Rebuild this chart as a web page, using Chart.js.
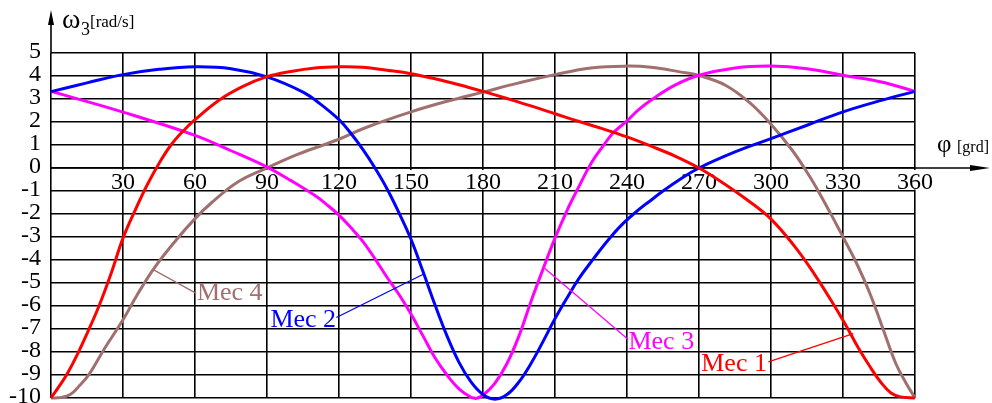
<!DOCTYPE html>
<html>
<head>
<meta charset="utf-8">
<script src="https://cdn.jsdelivr.net/npm/chart.js@4.4.1/dist/chart.umd.min.js"></script>
<style>
    html, body { margin: 0; padding: 0; background: #fff; }
    #wrap { width: 992px; height: 403px; }
</style>
</head>
<body>
<div id="wrap"><canvas id="chart"></canvas></div>
<script>
/* ===== data ===== */

const xTicks = [30, 60, 90, 120, 150, 180, 210, 240, 270, 300, 330, 360];
const yTicks = [5, 4, 3, 2, 1, 0, -1, -2, -3, -4, -5, -6, -7, -8, -9, -10];

const mec1Phi = [0, 4, 7, 11, 15, 20, 25, 30, 35, 40, 45, 50, 55, 60, 70, 80, 90, 100, 110, 120, 130, 140, 150, 160, 170, 180, 190, 200, 210, 220, 230, 240, 250, 260, 270, 280, 290, 300, 310, 318, 325, 331, 336, 341, 346, 350, 354, 360];
const mec1Val = [-10, -9.4, -8.9, -8.1, -7.2, -6.0, -4.6, -3.05, -1.85, -0.75, 0.2, 1.0, 1.6, 2.1, 2.95, 3.55, 3.97, 4.2, 4.35, 4.4, 4.38, 4.25, 4.1, 3.88, 3.62, 3.33, 3.02, 2.7, 2.36, 2.02, 1.7, 1.35, 0.95, 0.52, 0, -0.65, -1.38, -2.22, -3.43, -4.6, -5.75, -6.8, -7.75, -8.6, -9.35, -9.78, -9.95, -10];

const mec2Phi = [0, 15, 30, 45, 60, 75, 90, 105, 112, 120, 125, 130, 135, 140, 145, 150, 155, 160, 165, 170, 175, 180, 185, 190, 195, 200, 205, 210, 215, 220, 226, 232, 238, 245, 250, 255, 262, 270, 285, 300, 315, 330, 346, 360];
const mec2Val = [3.32, 3.7, 4.06, 4.29, 4.4, 4.32, 3.96, 3.3, 2.8, 2.1, 1.5, 0.8, 0, -0.9, -1.95, -3.1, -4.5, -5.95, -7.3, -8.45, -9.3, -9.85, -10.05, -9.85, -9.3, -8.5, -7.55, -6.55, -5.65, -4.8, -3.95, -3.15, -2.45, -1.8, -1.4, -1.0, -0.5, 0, 0.7, 1.28, 1.86, 2.44, 2.94, 3.33];

const mec3Phi = [0, 30, 60, 75, 90, 100, 110, 115, 120, 125, 130, 135, 140, 145, 150, 155, 160, 165, 170, 175, 177, 180, 185, 190, 195, 200, 205, 210, 215, 220, 225, 230, 234, 240, 245, 251, 260, 270, 285, 300, 315, 330, 346, 360];
const mec3Val = [3.33, 2.43, 1.42, 0.75, 0.04, -0.55, -1.2, -1.6, -2.05, -2.6, -3.2, -3.95, -4.75, -5.5, -6.35, -7.3, -8.25, -9.0, -9.6, -9.97, -10.02, -9.88, -9.35, -8.5, -7.3, -5.8, -4.4, -3.05, -1.85, -0.8, 0.2, 0.95, 1.5, 2.05, 2.55, 3.02, 3.6, 4.03, 4.35, 4.43, 4.32, 4.03, 3.74, 3.33];

const mec4Phi = [0, 4, 8, 12, 16, 22, 30, 36, 43, 52, 60, 67, 78, 90, 103, 120, 131, 150, 165, 180, 195, 210, 225, 240, 250, 262, 270, 281, 291, 300, 309, 316, 321, 327, 330, 335, 341, 346, 352, 356, 360];
const mec4Val = [-10, -9.98, -9.85, -9.45, -8.95, -7.9, -6.6, -5.5, -4.35, -3.15, -2.2, -1.5, -0.6, 0, 0.6, 1.25, 1.75, 2.44, 2.9, 3.3, 3.7, 4.06, 4.35, 4.43, 4.38, 4.18, 4.02, 3.6, 2.85, 1.9, 0.75, -0.35, -1.25, -2.4, -3.0, -4.0, -5.4, -6.8, -8.5, -9.3, -10];

// label text spot and the point on the curve its leader line goes to, in data units
const labels = [
    { text: 'Mec 4', color: '#a0706e', at: [60.8, -5.72], align: 'left',  from: [60.5, -5.45], to: [42.6, -4.42] },
    { text: 'Mec 2', color: '#0000ff', at: [118.8, -6.9], align: 'right', from: [118.9, -6.5], to: [155.1, -4.62] },
    { text: 'Mec 3', color: '#ff00ff', at: [240.6, -7.85], align: 'left', from: [240.5, -7.46], to: [205.8, -4.37] },
    { text: 'Mec 1', color: '#ff0000', at: [298.3, -8.82], align: 'right', from: [298.9, -8.43], to: [334.3, -7.2] },
];

const colors = { mec1: '#ff0000', mec2: '#0000ff', mec3: '#ff00ff', mec4: '#a0706e' };
const serif = '"Liberation Serif", "Times New Roman", serif';

function pairs(xs, ys) {
    return xs.map((v, i) => ({ x: v, y: ys[i] }));
}

function series(name, xs, ys, color) {
    return {
        label: name,
        data: pairs(xs, ys),
        borderColor: color,
        borderWidth: 3,
        pointRadius: 0,
        fill: false,
        tension: 0.4,
        clip: false,
    };
}

/* ===== axes, tick labels, leader lines ===== */

const overlay = {
    id: 'overlay',
    beforeDatasetsDraw(chart) {
        const { ctx, scales: { x, y } } = chart;
        const x0 = x.getPixelForValue(0);
        const y0 = y.getPixelForValue(0);
        const top = y.getPixelForValue(5);
        ctx.save();
        ctx.strokeStyle = '#000';
        ctx.fillStyle = '#000';
        ctx.lineWidth = 1.6;

        // phi axis with arrow
        ctx.beginPath();
        ctx.moveTo(x0, y0);
        ctx.lineTo(972, y0);
        ctx.stroke();
        ctx.beginPath();
        ctx.moveTo(990, y0);
        ctx.lineTo(970, y0 - 3);
        ctx.lineTo(970, y0 + 3);
        ctx.closePath();
        ctx.fill();

        // omega axis with arrow
        ctx.beginPath();
        ctx.moveTo(x0, top);
        ctx.lineTo(x0, 22);
        ctx.stroke();
        ctx.beginPath();
        ctx.moveTo(x0, 10);
        ctx.lineTo(x0 - 3, 25);
        ctx.lineTo(x0 + 3, 25);
        ctx.closePath();
        ctx.fill();

        // x tick labels sit on a white patch under the zero line
        ctx.font = '24px ' + serif;
        ctx.textAlign = 'center';
        ctx.textBaseline = 'alphabetic';
        xTicks.forEach(t => {
            const px = x.getPixelForValue(t);
            const w = ctx.measureText(String(t)).width;
            ctx.fillStyle = '#fff';
            ctx.fillRect(px - w / 2 - 1, y0 + 2, w + 2, 19.5);
            ctx.fillStyle = '#000';
            ctx.fillText(String(t), px, y0 + 21);
        });

        // y tick labels
        ctx.textAlign = 'right';
        ctx.textBaseline = 'middle';
        yTicks.forEach(t => {
            ctx.fillText(String(t), 41, y.getPixelForValue(t) - 1);
        });

        // axis titles
        ctx.textAlign = 'left';
        ctx.textBaseline = 'alphabetic';
        ctx.font = '28px ' + serif;
        ctx.fillText('ω', 62, 28);
        ctx.font = '18px ' + serif;
        ctx.fillText('3', 81, 35);
        ctx.font = '17px ' + serif;
        ctx.fillText('[rad/s]', 90, 27);

        ctx.font = '25px ' + serif;
        ctx.fillText('φ', 937, 152);
        ctx.font = '16px ' + serif;
        ctx.fillText('[grd]', 957, 152);
        ctx.restore();
    },
    afterDatasetsDraw(chart) {
        const { ctx, scales: { x, y } } = chart;
        ctx.save();
        ctx.font = '26px ' + serif;
        ctx.textBaseline = 'alphabetic';
        labels.forEach(l => {
            ctx.strokeStyle = l.color;
            ctx.fillStyle = l.color;
            ctx.lineWidth = 1.3;
            ctx.beginPath();
            ctx.moveTo(x.getPixelForValue(l.from[0]), y.getPixelForValue(l.from[1]));
            ctx.lineTo(x.getPixelForValue(l.to[0]), y.getPixelForValue(l.to[1]));
            ctx.stroke();
            ctx.textAlign = l.align;
            ctx.fillText(l.text, x.getPixelForValue(l.at[0]), y.getPixelForValue(l.at[1]));
        });
        ctx.restore();
    },
};

const gridStyle = { color: '#000', lineWidth: 1.6, drawTicks: false };

new Chart(document.getElementById('chart'), {
    type: 'line',
    data: {
        datasets: [
            series('Mec 1', mec1Phi, mec1Val, colors.mec1),
            series('Mec 2', mec2Phi, mec2Val, colors.mec2),
            series('Mec 3', mec3Phi, mec3Val, colors.mec3),
            series('Mec 4', mec4Phi, mec4Val, colors.mec4),
        ],
    },
    options: {
        responsive: true,
        maintainAspectRatio: false,
        animation: false,
        layout: { padding: { left: 51, right: 77, top: 53, bottom: 5 } },
        plugins: { legend: { display: false }, tooltip: { enabled: false } },
        scales: {
            x: {
                type: 'linear',
                min: 0,
                max: 360,
                ticks: { display: false, stepSize: 30 },
                grid: gridStyle,
                border: { display: false },
            },
            y: {
                type: 'linear',
                min: -10,
                max: 5,
                ticks: { display: false, stepSize: 1 },
                grid: gridStyle,
                border: { display: false },
            },
        },
    },
    plugins: [overlay],
});
</script>
</body>
</html>
